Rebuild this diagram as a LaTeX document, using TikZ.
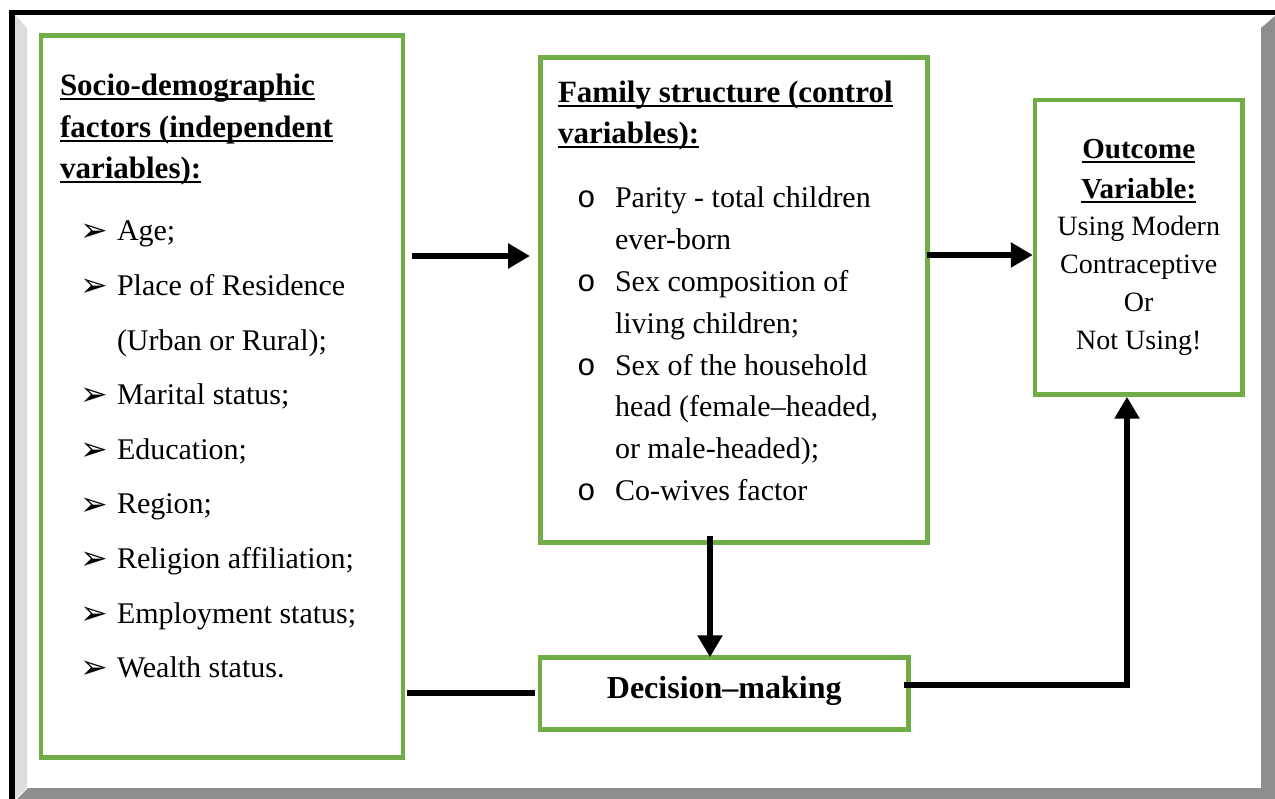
\documentclass[tikz,border=0pt]{standalone}
\usepackage{fontspec}
\setmainfont{Liberation Serif}
\newfontfamily\dejavu{DejaVu Sans}
\newfontfamily\monof{Liberation Mono}
\usetikzlibrary{arrows.meta,calc}
\definecolor{boxgreen}{RGB}{112,173,71}
\definecolor{darkshade}{RGB}{142,142,142}
\definecolor{lightshade}{RGB}{221,221,221}
\newcommand{\regf}{\fontsize{30}{36}\selectfont}
\newcommand{\hdrf}{\fontsize{31}{36}\selectfont\bfseries}
\newcommand{\outf}{\fontsize{28}{34}\selectfont}
\newcommand{\outhf}{\fontsize{29}{34}\selectfont\bfseries}
\newsavebox{\hdrbox}
\newcommand{\hdr}[1]{\sbox{\hdrbox}{#1}\rlap{\rule[-4.1pt]{\wd\hdrbox}{1.6pt}}\usebox{\hdrbox}}
\newcommand{\arrbul}{{\dejavu\fontsize{33}{40}\selectfont ➢}}
\newcommand{\circbul}{{\monof\fontsize{31}{36}\selectfont o}}
\tikzset{
  gbox/.style={draw=boxgreen, line width=4.5pt, fill=white, inner sep=0pt},
  txt/.style={anchor=base west, inner sep=0pt, outer sep=0pt},
  ctxt/.style={anchor=base, inner sep=0pt, outer sep=0pt},
  arr/.style={line width=6.5pt, -{Triangle[length=22pt,width=24pt]}},
  plain/.style={line width=6.5pt}
}
\begin{document}
\begin{tikzpicture}[x=1pt,y=-1pt]
\useasboundingbox (0,0) rectangle (1275,799);
\fill[white] (0,0) rectangle (1275,799);
% frame
\fill[lightshade] (15,15) -- (27,28) -- (27,788) -- (15,799) -- cycle;
\fill[darkshade] (1261,28) -- (1275,16) -- (1275,799) -- (1261,799) -- cycle;
\fill[darkshade] (17,799) -- (28,788) -- (1275,788) -- (1275,799) -- cycle;
\fill[black] (9,10) rectangle (1275,15.5);
\fill[black] (9,10) rectangle (15,799);

% boxes
\node[gbox, minimum width=362, minimum height=722] (soc) at (222,396.5) {};
\node[gbox, minimum width=387, minimum height=485] (fam) at (734,300) {};
\node[gbox, minimum width=207.5, minimum height=294.5] (out) at (1138.75,247.25) {};
\node[gbox, minimum width=368.5, minimum height=72] (dec) at (724.25,693.5) {};

% left box text
\node[txt] (sh1) at (60,96) {\hdrf\hdr{Socio-demographic}};
\node[txt] (sh2) at (60,138) {\hdrf\hdr{factors (independent}};
\node[txt] (sh3) at (60,179) {\hdrf\hdr{variables):}};
\foreach \t/\b [count=\i from 0] in {Age;/1,Place of Residence/1,(Urban or Rural);/0,Marital status;/1,Education;/1,Region;/1,Religion affiliation;/1,Employment status;/1,Wealth status./1}{
  \node[txt] (si\i) at (117,241+54.6*\i) {\regf \t};
  \ifnum\b=1 \node[txt] (sb\i) at (80,242+54.6*\i) {\arrbul};\fi
}

% family box text
\node[txt] (fh1) at (558,103) {\hdrf\hdr{Family structure (control}};
\node[txt] (fh2) at (558,144) {\hdrf\hdr{variables):}};
\foreach \t/\b [count=\i from 0] in {Parity - total children/1,ever-born/0,Sex composition of/1,living children;/0,Sex of the household/1,{head (female–headed,}/0,or male-headed);/0,Co-wives factor/1}{
  \node[txt] (fi\i) at (615,208+41.8*\i) {\regf \t};
  \ifnum\b=1 \node[txt] (fb\i) at (577,208+41.8*\i) {\circbul};\fi
}

% outcome text
\node[ctxt] (o1) at (1138.75,159) {\outhf\hdr{Outcome}};
\node[ctxt] (o2) at (1138.75,199) {\outhf\hdr{Variable:}};
\node[ctxt] (o3) at (1138.75,236) {\outf Using Modern};
\node[ctxt] (o4) at (1138.75,274) {\outf Contraceptive};
\node[ctxt] (o5) at (1138.75,312) {\outf Or};
\node[ctxt] (o6) at (1138.75,350) {\outf Not Using!};

% decision text
\node[ctxt] (dt) at (724.25,698) {\fontsize{32}{36}\selectfont\bfseries Decision–making};

% connectors
\coordinate (ya) at (0,256);
\coordinate (yb) at (0,255);
\coordinate (xc) at (710,0);
\coordinate (yd) at (0,693);
\coordinate (bend) at (1127,685);
\draw[arr, shorten <=6.75pt, shorten >=8.25pt] (soc.east |- ya) -- (fam.west |- ya);
\draw[arr, shorten <=-2.5pt] (fam.east |- yb) -- (out.west |- yb);
\draw[arr, shorten <=-9pt, shorten >=-2pt] (fam.south -| xc) -- (dec.north -| xc);
\draw[plain, shorten <=2pt, shorten >=2.75pt] (soc.east |- yd) -- (dec.west |- yd);
\draw[arr, shorten <=-6.75pt] (dec.east |- bend) -- (bend) -- (out.south -| bend);
\end{tikzpicture}
\end{document}
